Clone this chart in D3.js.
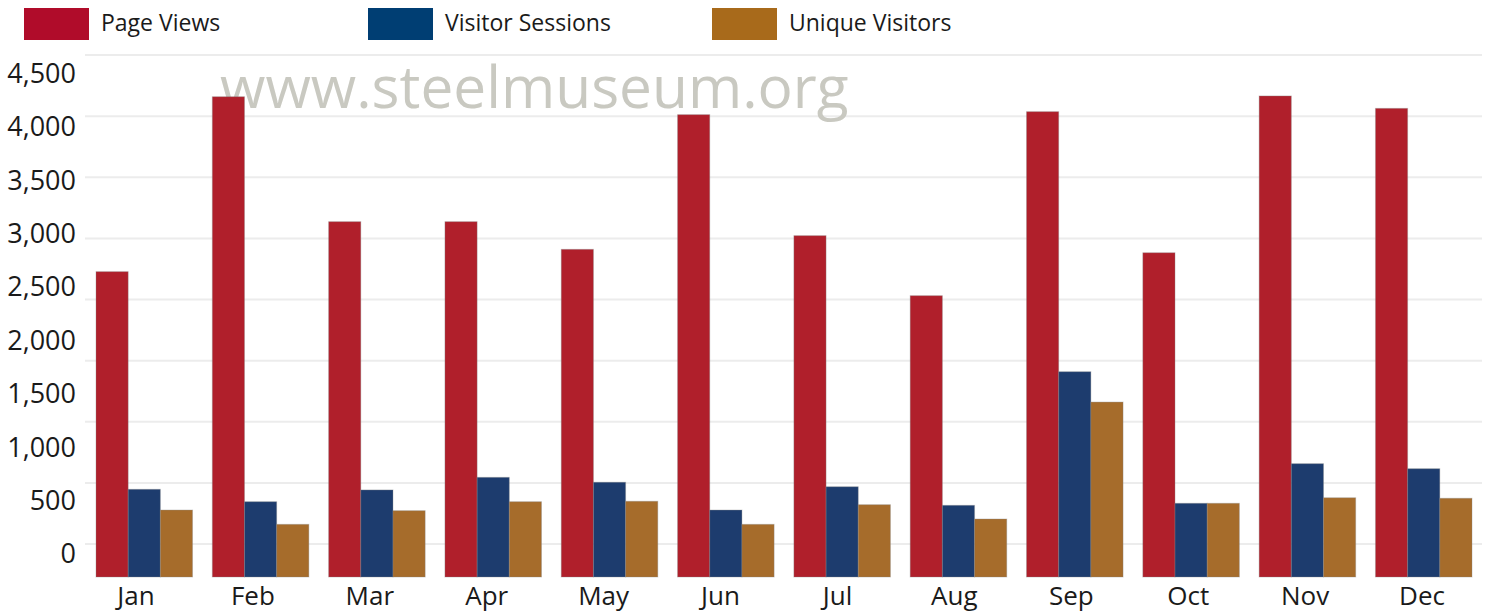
<!DOCTYPE html>
<html lang="en">
    <head>
        <meta charset="utf-8">
        <style>
            body { margin: 0; background: #fff; }
            text { font-family: "Open Sans", sans-serif; fill: #1a1a1a; }
            .grid line { stroke: #ececec; stroke-width: 2; }
            .watermark { fill: #c9c9c1; }
        </style>
        <script src="https://d3js.org/d3.v7.min.js"></script>
    </head>
    <body>
        <svg width="1493" height="612"></svg>
        <script>
            // Data
            var months = ["Jan", "Feb", "Mar", "Apr", "May", "Jun", "Jul", "Aug", "Sep", "Oct", "Nov", "Dec"];
            var seriesNames = ["Page Views", "Visitor Sessions", "Unique Visitors"];
            var pageViews = [2640, 4278, 3108, 3108, 2849, 4110, 2977, 2415, 4138, 2817, 4285, 4169];
            var visitorSessions = [602, 486, 596, 714, 668, 408, 626, 452, 1703, 471, 842, 795];
            var uniqueVisitors = [408, 274, 402, 486, 490, 274, 458, 324, 1419, 471, 523, 518];
            var yTicks = [0, 500, 1000, 1500, 2000, 2500, 3000, 3500, 4000, 4500];

            var barColors = ["#b01f2b", "#1d3c6e", "#a66c2b"];
            var legendColors = ["#b00c2a", "#003e73", "#a86a1b"];

            var svg = d3.select("svg");
            var plotLeft = 85, plotRight = 1482, plotBottom = 577;

            var table = months.map(function(m, i) {
                return { month: m, values: [pageViews[i], visitorSessions[i], uniqueVisitors[i]] };
            });

            var x = d3.scaleBand()
                .domain(months)
                .range([96, 1472])
                .paddingInner(0.17)
                .paddingOuter(0);

            // month labels sit on a slightly wider spacing than the bars
            var xLabel = d3.scalePoint()
                .domain(months)
                .range([136, 1422]);

            var x1 = d3.scaleBand()
                .domain(d3.range(seriesNames.length))
                .range([0, x.bandwidth()]);

            var y = d3.scaleLinear()
                .domain([0, 4500])
                .range([553.6, 73]);

            // gridlines
            var gridY = d3.scaleLinear().domain([0, 8]).range([544, 55]);
            svg.append("g")
                .attr("class", "grid")
              .selectAll("line")
              .data(d3.range(9))
              .enter()
                .append("line")
                .attr("x1", plotLeft)
                .attr("x2", plotRight)
                .attr("y1", function(d) { return gridY(d); })
                .attr("y2", function(d) { return gridY(d); });

            // watermark
            svg.append("text")
                .attr("class", "watermark")
                .attr("x", 220)
                .attr("y", 108)
                .style("font-size", "58.6px")
                .text("www.steelmuseum.org");

            // bars
            var groups = svg.append("g")
              .selectAll("g")
              .data(table)
              .enter()
                .append("g")
                .attr("transform", function(d) { return "translate(" + x(d.month) + ",0)"; });

            groups.selectAll("rect")
                .data(function(d) { return d.values; })
                .enter()
                .append("rect")
                    .attr("x", function(d, i) { return x1(i); })
                    .attr("y", function(d) { return y(d); })
                    .attr("width", x1.bandwidth())
                    .attr("height", function(d) { return plotBottom - y(d); })
                    .attr("fill", function(d, i) { return barColors[i]; })
                    .attr("stroke", "#888")
                    .attr("stroke-opacity", 0.35)
                    .attr("stroke-width", 1);

            // y axis labels
            svg.append("g")
              .selectAll("text")
              .data(yTicks)
              .enter()
                .append("text")
                .attr("x", 76)
                .attr("y", function(d) { return y(d); })
                .attr("dy", "0.36em")
                .attr("text-anchor", "end")
                .style("font-size", "27px")
                .text(function(d) { return d3.format(",")(d); });

            // x axis labels
            svg.append("g")
              .selectAll("text")
              .data(months)
              .enter()
                .append("text")
                .attr("x", function(d) { return xLabel(d); })
                .attr("y", 605)
                .attr("text-anchor", "middle")
                .style("font-size", "26px")
                .text(function(d) { return d; });

            // legend
            var legend = svg.append("g")
              .selectAll("g")
              .data(seriesNames)
              .enter()
                .append("g")
                .attr("transform", function(d, i) { return "translate(" + (24 + i * 344) + ",8)"; });

            legend.append("rect")
                .attr("width", 65)
                .attr("height", 32)
                .attr("fill", function(d, i) { return legendColors[i]; });

            legend.append("text")
                .attr("x", 77)
                .attr("y", 23)
                .style("font-size", "23px")
                .text(function(d) { return d; });
        </script>
    </body>
</html>
